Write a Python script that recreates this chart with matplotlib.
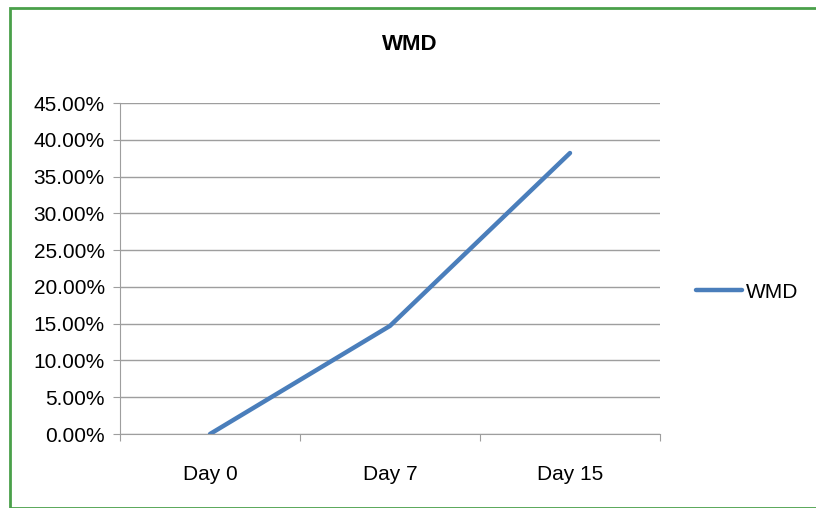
import matplotlib
matplotlib.use("Agg")
from matplotlib import pyplot as plt
from matplotlib.patches import Rectangle
from matplotlib.ticker import FuncFormatter, FixedLocator

days = ["Day 0", "Day 7", "Day 15"]
wmd = [0.0, 14.7, 38.2]

plt.rcParams['font.family'] = ['Liberation Sans', 'DejaVu Sans']

fig = plt.figure(figsize=(8.16, 5.08), dpi=100)
ax = fig.add_axes([120/816, 74/508, 540/816, 331/508])

x = list(range(len(days)))
ax.plot(x, wmd, color="#4a7ebb", lw=3.2, label="WMD", solid_capstyle="round")

ax.set_xlim(-0.5, len(days) - 0.5)
ax.set_ylim(0, 45)
ax.yaxis.set_major_locator(FixedLocator([i * 5 for i in range(10)]))
ax.yaxis.set_major_formatter(FuncFormatter(lambda v, p: "%.2f%%" % v))
ax.grid(axis="y", color="#9e9e9e", lw=1)
ax.set_axisbelow(True)

ax.xaxis.set_major_locator(FixedLocator([i - 0.5 for i in range(len(days) + 1)]))
ax.xaxis.set_major_formatter(FuncFormatter(lambda v, p: ""))
ax.xaxis.set_minor_locator(FixedLocator(x))
ax.set_xticklabels(days, minor=True)
ax.tick_params(axis="x", which="minor", length=0, pad=22, labelsize=15)
ax.tick_params(axis="x", which="major", length=5, color="#9e9e9e")
ax.tick_params(axis="y", length=5, color="#9e9e9e", labelsize=15, pad=6)

for s in ["top", "right"]:
    ax.spines[s].set_visible(False)
for s in ["left", "bottom"]:
    ax.spines[s].set_color("#9e9e9e")

fig.text(410/816, 1 - 45/508, "WMD", ha="center", va="center", fontsize=16, fontweight="bold")

ax.legend(loc="center left", bbox_to_anchor=(677/816, 1 - 292/508), bbox_transform=fig.transFigure,
          frameon=False, fontsize=15, handlelength=2.2, handletextpad=0.2)

fig.patches.append(Rectangle((9.5/816, 0.5/508), 900/816, 499.5/508, transform=fig.transFigure,
                             fill=False, edgecolor="#4aa04a", lw=2))

fig.savefig("out.png", dpi=100)
